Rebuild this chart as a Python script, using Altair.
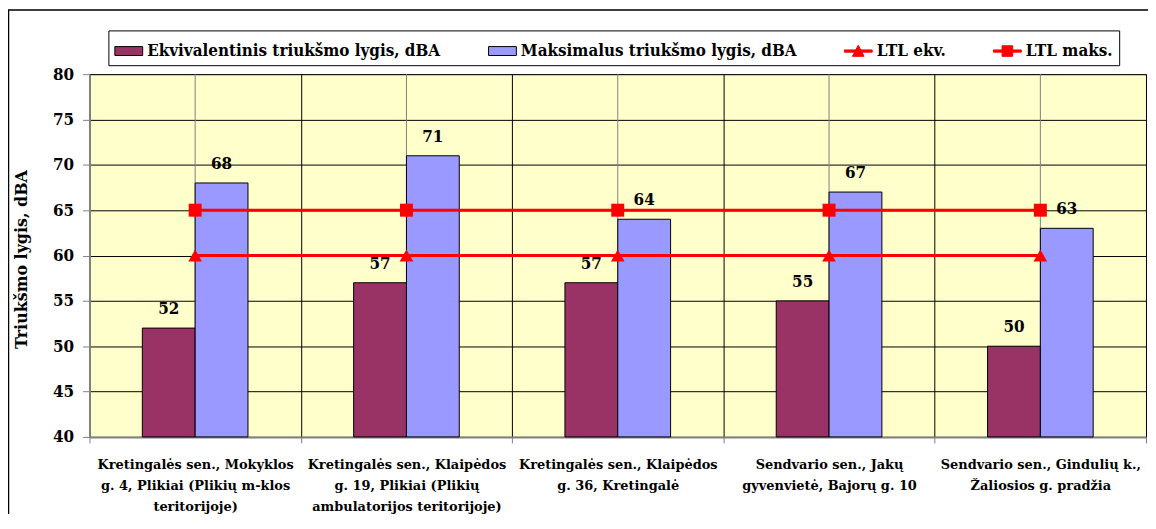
import altair as alt
import pandas as pd

categories = [
    "Kretingalės sen., Mokyklos|g. 4, Plikiai (Plikių m-klos|teritorijoje)",
    "Kretingalės sen., Klaipėdos|g. 19, Plikiai (Plikių|ambulatorijos teritorijoje)",
    "Kretingalės sen., Klaipėdos|g. 36, Kretingalė",
    "Sendvario sen., Jakų|gyvenvietė, Bajorų g. 10",
    "Sendvario sen., Gindulių k.,|Žaliosios g. pradžia",
]
series_names = [
    "Ekvivalentinis triukšmo lygis, dBA",
    "Maksimalus triukšmo lygis, dBA",
    "LTL ekv.",
    "LTL maks.",
]
ekv = [52, 57, 57, 55, 50]
maks = [68, 71, 64, 67, 63]
ltl_ekv = [60, 60, 60, 60, 60]
ltl_maks = [65, 65, 65, 65, 65]
y_ticks = [40, 45, 50, 55, 60, 65, 70, 75, 80]

rows = []
for name, vals in zip(series_names, [ekv, maks, ltl_ekv, ltl_maks]):
    for c, v in zip(categories, vals):
        rows.append({"cat": c, "series": name, "value": v})
df = pd.DataFrame(rows)
bars_df = df[df.series.isin(series_names[:2])]
lines_df = df[df.series.isin(series_names[2:])]
cat_df = pd.DataFrame({"cat": categories})

FONT = "DejaVu Serif Condensed"
FONT_B = "DejaVu Serif"

x_enc = alt.X(
    "cat:N",
    sort=categories,
    title=None,
    scale=alt.Scale(paddingInner=0, paddingOuter=0),
    axis=alt.Axis(
        tickBand="extent",
        grid=True,
        gridColor="#000000",
        gridWidth=1,
        domainColor="#808080",
        domainWidth=2,
        tickColor="#808080",
        tickSize=6,
        labelAngle=0,
        labelAlign="center",
        labelFont=FONT_B,
        labelFontWeight="bold",
        labelFontSize=13,
        labelColor="#000000",
        labelLineHeight=21,
        labelPadding=16,
        labelBaseline="top",
        labelLimit=400,
        labelExpr="split(datum.label, '|')",
    ),
)

y_scale = alt.Scale(domain=[40, 80], nice=False, zero=False)
y_axis = alt.Axis(
    values=y_ticks,
    grid=True,
    gridColor="#000000",
    gridWidth=1,
    domainColor="#808080",
    domainWidth=2,
    tickColor="#808080",
    tickSize=7,
    labelFont=FONT,
    labelFontWeight="bold",
    labelFontSize=17,
    labelColor="#000000",
    labelPadding=9,
    title="Triukšmo lygis, dBA",
    titleFont=FONT_B,
    titleFontWeight="bold",
    titleFontSize=16,
    titleColor="#000000",
    titleAngle=270,
    titleX=-68,
    titleY=186,
    titleAlign="center",
    titleBaseline="middle",
)

legend = alt.Legend(
    title=None,
    orient="none",
    legendX=19,
    legendY=-44,
    direction="horizontal",
    labelFont=FONT,
    labelFontWeight="bold",
    labelFontSize=17,
    labelColor="#000000",
    labelOffset=4,
    columnPadding=45,
    symbolSize=784,
    symbolStrokeWidth=1,
    symbolOpacity=1,
    padding=6,
    strokeColor="#000000",
    fillColor="#FFFFFF",
    labelLimit=400,
)

rect_path = "M-1,-0.32H1V0.32H-1Z"
tri_path = "M-1,-0.08H1V0.08H-1Z M-0.42,0.38L0,-0.42L0.42,0.38Z"
sq_path = "M-1,-0.08H1V0.08H-1Z M-0.38,-0.38H0.38V0.38H-0.38Z"

color_scale = alt.Scale(domain=series_names, range=["#993366", "#9999FF", "#FF0000", "#FF0000"])
shape_scale = alt.Scale(domain=series_names, range=[rect_path, rect_path, tri_path, sq_path])
stroke_scale = alt.Scale(domain=series_names, range=["#000000", "#000000", "#FF0000", "#FF0000"])

rules = alt.Chart(cat_df).mark_rule(color="#808080", strokeWidth=1).encode(
    x=alt.X("cat:N", sort=categories),
    y=alt.datum(80, scale=y_scale),
    y2=alt.datum(40),
)

bars = alt.Chart(bars_df).mark_bar(stroke="#000000", strokeWidth=1).encode(
    x=x_enc,
    xOffset=alt.XOffset(
        "series:N",
        sort=series_names[:2],
        scale=alt.Scale(domain=series_names[:2], paddingInner=0, paddingOuter=1),
    ),
    y=alt.Y("value:Q", scale=y_scale, axis=y_axis),
    y2=alt.datum(40),
    color=alt.Color("series:N", scale=color_scale, legend=legend),
)

legend_layer = alt.Chart(df).transform_filter("false").mark_point(filled=True, opacity=1).encode(
    x=alt.X("cat:N", sort=categories),
    y=alt.Y("value:Q", scale=y_scale),
    color=alt.Color("series:N", scale=color_scale, legend=legend),
    shape=alt.Shape("series:N", scale=shape_scale, legend=legend),
    stroke=alt.Stroke("series:N", scale=stroke_scale, legend=legend),
)

labels = alt.Chart(bars_df).mark_text(
    font=FONT, fontWeight="bold", fontSize=17, color="#000000", baseline="bottom", dy=-10
).encode(
    x=alt.X("cat:N", sort=categories),
    xOffset=alt.XOffset("series:N", sort=series_names[:2]),
    y=alt.Y("value:Q", scale=y_scale),
    text=alt.Text("value:Q"),
)

lines = alt.Chart(lines_df).mark_line(color="#FF0000", strokeWidth=3).encode(
    x=alt.X("cat:N", sort=categories),
    y=alt.Y("value:Q", scale=y_scale),
    detail="series:N",
)

tri_pts = alt.Chart(lines_df[lines_df.series == "LTL ekv."]).mark_point(
    filled=True, color="#FF0000", size=190, opacity=1, shape="triangle-up"
).encode(
    x=alt.X("cat:N", sort=categories),
    y=alt.Y("value:Q", scale=y_scale),
)
sq_pts = alt.Chart(lines_df[lines_df.series == "LTL maks."]).mark_point(
    filled=True, color="#FF0000", size=170, opacity=1, shape="square"
).encode(
    x=alt.X("cat:N", sort=categories),
    y=alt.Y("value:Q", scale=y_scale),
)

border = alt.Chart(pd.DataFrame({"k": [0]})).mark_rect(
    fill=None, stroke="#000000", strokeWidth=1.5, clip=False
).encode(
    x=alt.value(-81.5), x2=alt.value(1200), y=alt.value(-64.5), y2=alt.value(600)
)

chart = (
    alt.layer(rules, bars, lines, tri_pts, sq_pts, labels, legend_layer, border)
    .properties(
        width=1063,
        height=365,
        autosize=alt.AutoSizeParams(type="none"),
        padding={"left": 82, "top": 65, "right": 2, "bottom": 76},
        background="#FFFFFF",
    )
    .configure_view(fill="#FFFFCC", stroke="#808080", strokeWidth=1)
)

chart.save("out.html", embed_options={"renderer": "svg", "actions": False})
